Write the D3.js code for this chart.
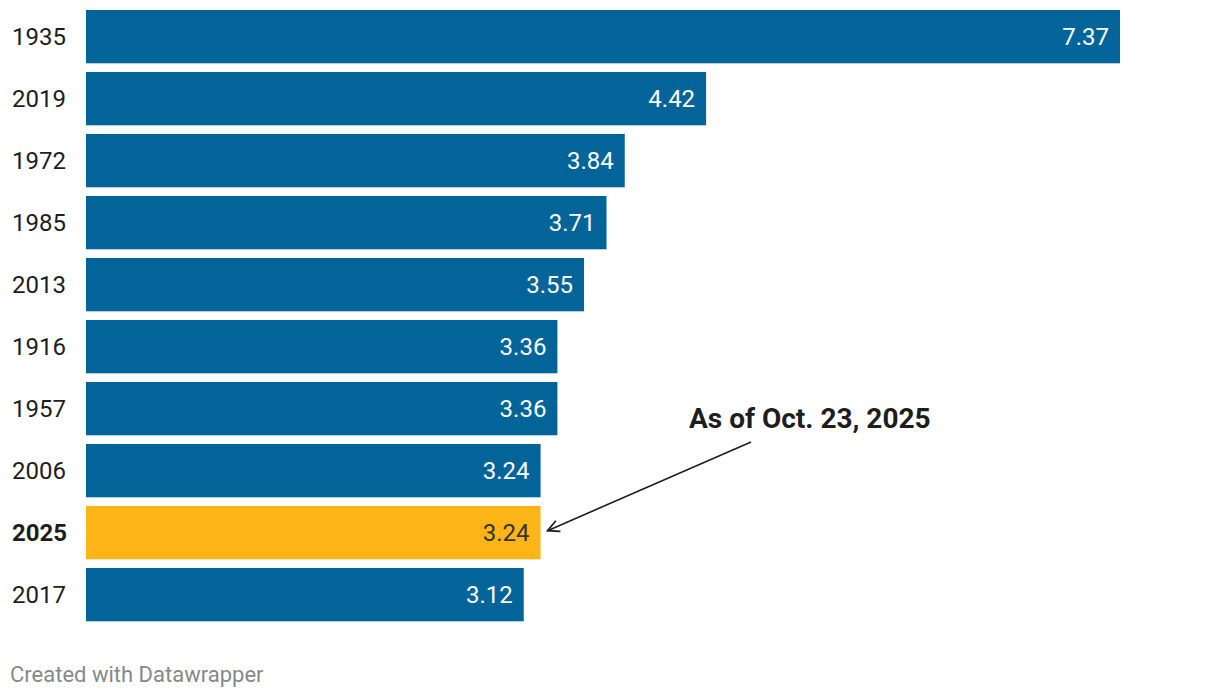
<!DOCTYPE html>
<html>
<head>
<meta charset="utf-8">
<script src="https://cdn.jsdelivr.net/npm/d3@7"></script>
<style>
  body { margin: 0; background: #fff; }
  svg text { font-family: Roboto, sans-serif; }
</style>
</head>
<body>
<div id="chart"></div>
<script>
// data
var years = ["1935", "2019", "1972", "1985", "2013", "1916", "1957", "2006", "2025", "2017"];
var values = [7.37, 4.42, 3.84, 3.71, 3.55, 3.36, 3.36, 3.24, 3.24, 3.12];
var highlight = "2025";
var note = "As of Oct. 23, 2025";

var width = 1220,
  height = 698;
var margin = { top: 10, left: 86 };
var step = 62,
  gap = 8.7;

var svg = d3
  .select("#chart")
  .append("svg")
  .attr("width", width)
  .attr("height", height);

var data = years.map(function (y, i) {
  return { year: y, value: values[i] };
});

var x = d3.scaleLinear().domain([0, 7.37]).range([margin.left, 1120]);
var y = d3
  .scaleBand()
  .domain(years)
  .range([margin.top, margin.top + step * years.length - gap])
  .paddingInner(gap / step)
  .paddingOuter(0);

// bars
svg
  .append("g")
  .selectAll("rect")
  .data(data)
  .enter()
  .append("rect")
  .attr("x", x(0))
  .attr("y", (d) => y(d.year))
  .attr("width", (d) => x(d.value) - x(0))
  .attr("height", y.bandwidth())
  .attr("fill", (d) => (d.year == highlight ? "#feb517" : "#036499"));

// year labels
svg
  .append("g")
  .selectAll("text")
  .data(data)
  .enter()
  .append("text")
  .attr("x", 12)
  .attr("y", (d) => y(d.year) + y.bandwidth() / 2)
  .attr("dy", "0.36em")
  .attr("font-size", 24)
  .attr("font-weight", (d) => (d.year == highlight ? 700 : 400))
  .attr("fill", "#1d1d1d")
  .text((d) => d.year);

// value labels
svg
  .append("g")
  .selectAll("text")
  .data(data)
  .enter()
  .append("text")
  .attr("x", (d) => x(d.value) - 11)
  .attr("y", (d) => y(d.year) + y.bandwidth() / 2)
  .attr("dy", "0.36em")
  .attr("text-anchor", "end")
  .attr("font-size", 24)
  .attr("fill", (d) => (d.year == highlight ? "#333" : "#fff"))
  .text((d) => d.value.toFixed(2));

// annotation
svg
  .append("defs")
  .append("marker")
  .attr("id", "head")
  .attr("viewBox", "0 0 10 10")
  .attr("refX", 9)
  .attr("refY", 5)
  .attr("markerWidth", 9)
  .attr("markerHeight", 9)
  .attr("orient", "auto")
  .append("path")
  .attr("d", "M1,1 L9,5 L1,9")
  .attr("fill", "none")
  .attr("stroke", "#1d1d1d")
  .attr("stroke-width", 1.2);

var hy = y(highlight) + y.bandwidth() / 2;
svg
  .append("line")
  .attr("x1", 751)
  .attr("y1", 442)
  .attr("x2", x(3.24) + 7)
  .attr("y2", hy - 2)
  .attr("stroke", "#1d1d1d")
  .attr("stroke-width", 1.6)
  .attr("marker-end", "url(#head)");

svg
  .append("text")
  .attr("x", 689)
  .attr("y", 428)
  .attr("font-size", 28)
  .attr("font-weight", 700)
  .attr("fill", "#1d1d1d")
  .text(note);

// footer
svg
  .append("text")
  .attr("x", 10)
  .attr("y", 682)
  .attr("font-size", 22)
  .attr("fill", "#888")
  .text("Created with Datawrapper");
</script>
</body>
</html>
